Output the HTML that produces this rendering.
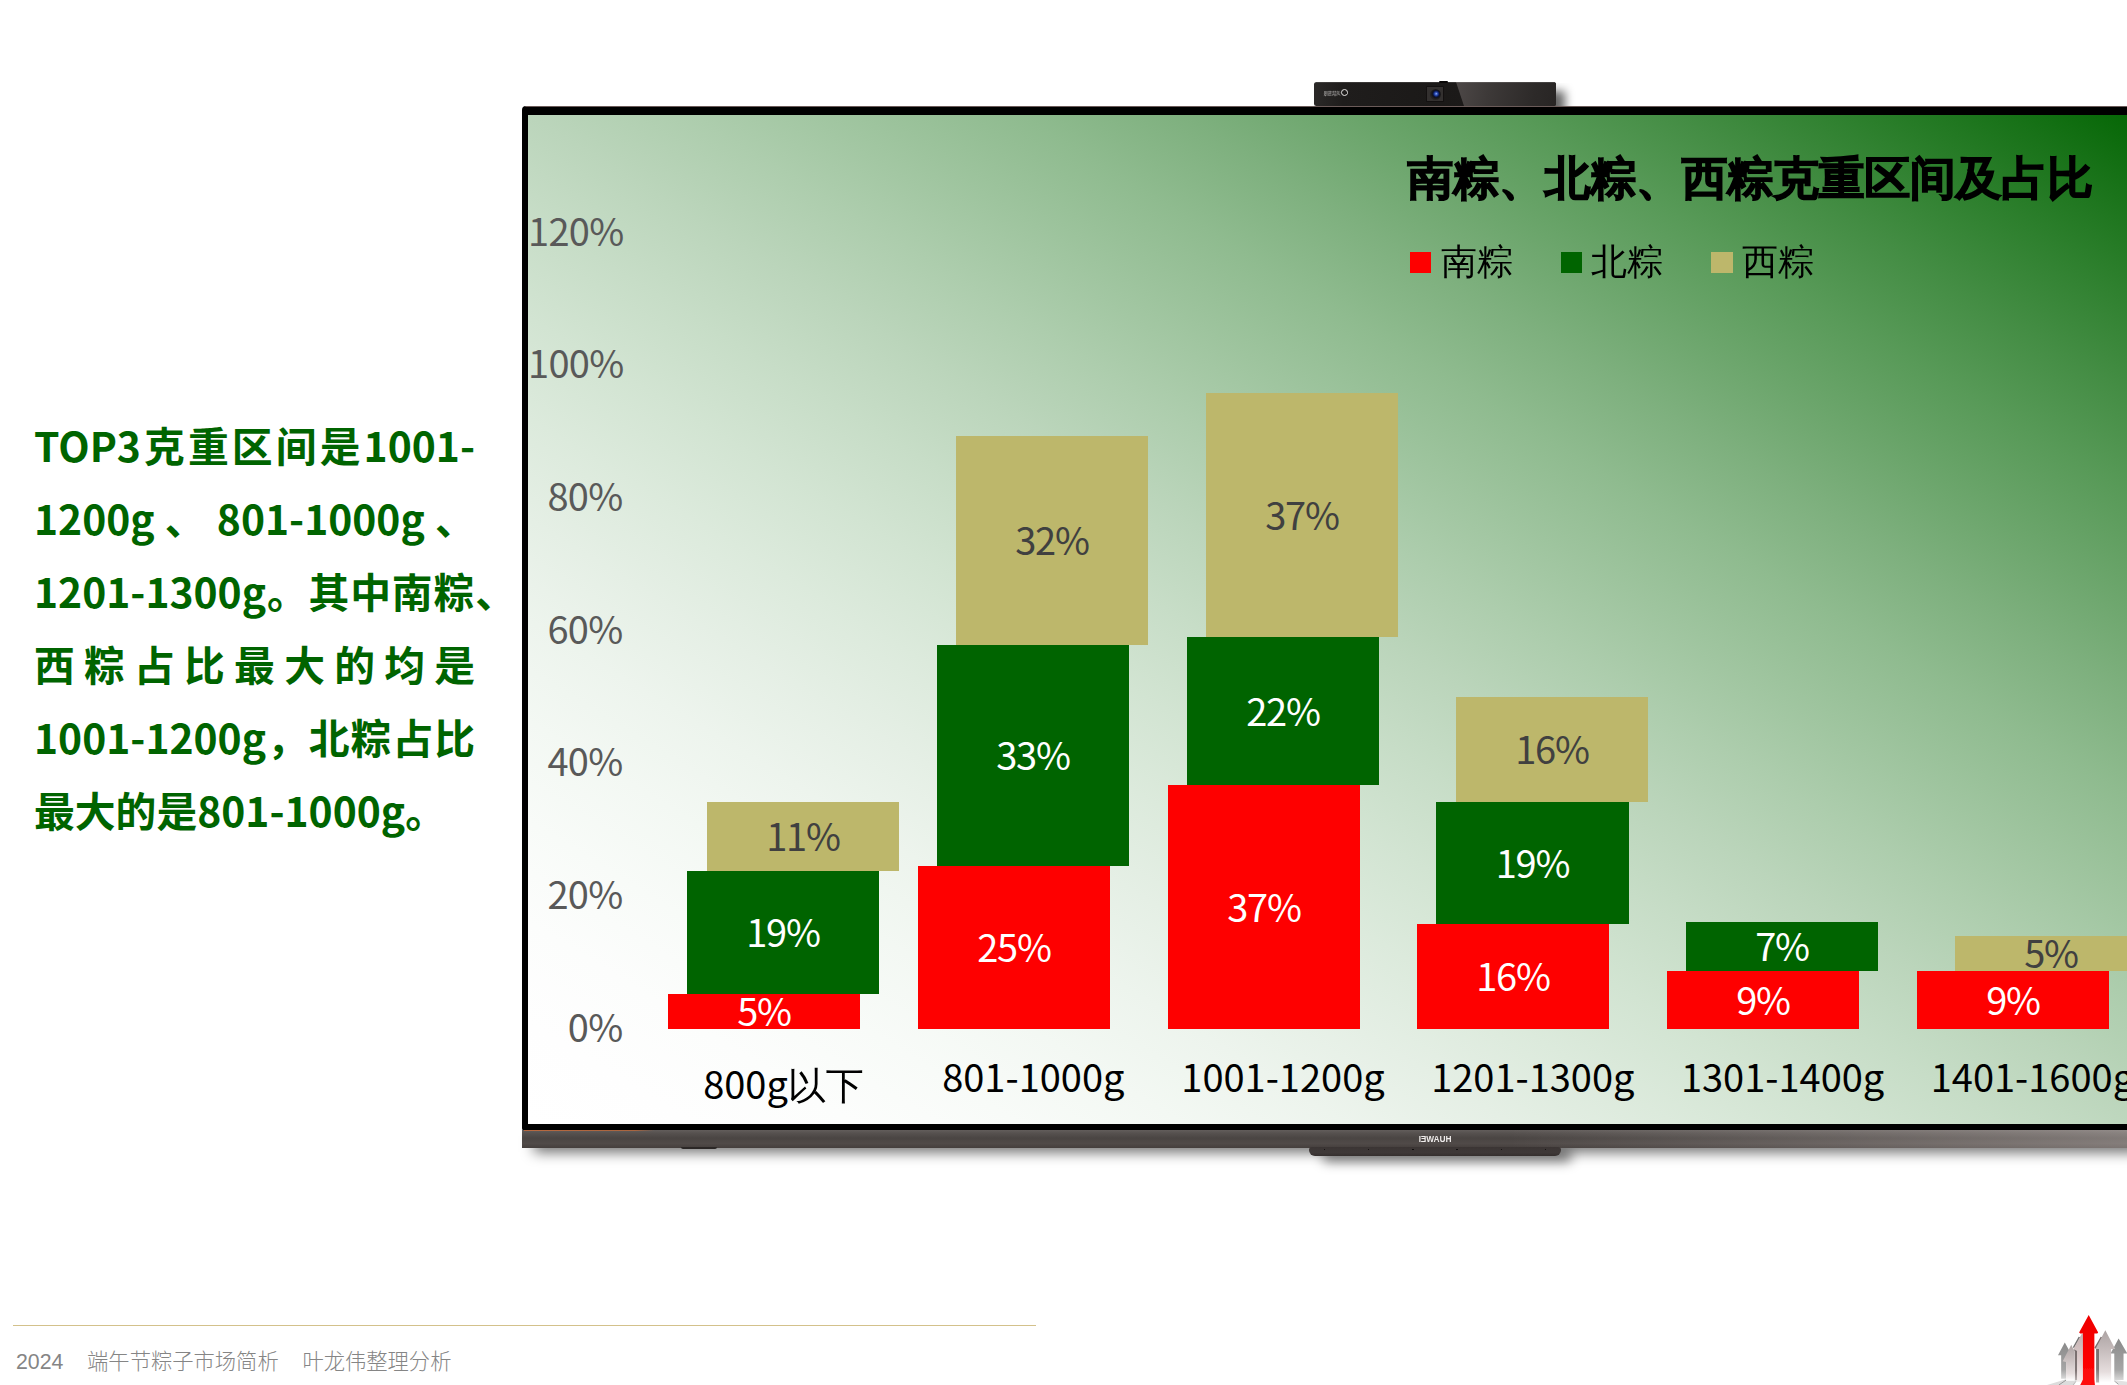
<!DOCTYPE html>
<html lang="zh-CN">
<head>
<meta charset="utf-8">
<title>南粽、北粽、西粽克重区间及占比</title>
<style>
html,body{margin:0;padding:0;background:#fff;overflow:hidden;}
body{width:2127px;height:1385px;position:relative;overflow:hidden;font-family:"Liberation Sans","Noto Sans CJK SC",sans-serif;}
.abs{position:absolute;}
/* left text */
.lt{position:absolute;left:34px;width:440px;height:74px;line-height:74px;font-family:"Noto Sans CJK SC","Liberation Sans",sans-serif;font-weight:700;font-size:40.8px;color:#006400;white-space:nowrap;}
.lt.j{text-align:justify;text-align-last:justify;}
/* tv */
#tv{position:absolute;left:522px;top:106px;width:1700px;height:1024.5px;background:#000;border-radius:4px 0 0 3px;}
#screen{position:absolute;left:528px;top:115px;width:1640px;height:1009px;background:linear-gradient(to top right,rgb(255,255,255) 0%,rgb(254,254,254) 5%,rgb(252,253,252) 10%,rgb(248,251,248) 15%,rgb(243,248,243) 20%,rgb(237,244,237) 25%,rgb(229,239,229) 30%,rgb(220,234,220) 35%,rgb(210,228,210) 40%,rgb(199,221,199) 45%,rgb(187,213,187) 50%,rgb(173,205,173) 55%,rgb(158,196,158) 60%,rgb(143,187,143) 65%,rgb(126,176,126) 70%,rgb(107,165,107) 75%,rgb(88,154,88) 80%,rgb(68,141,68) 85%,rgb(46,128,46) 90%,rgb(24,114,24) 95%,rgb(0,100,0) 100%);overflow:hidden;}
.chart{font-family:"Noto Sans CJK SC","Liberation Sans",sans-serif;font-size:38px;}
.wq{font-family:"WenQuanYi Zen Hei","Noto Sans CJK SC",sans-serif;}
.yl{position:absolute;left:0;width:94.5px;letter-spacing:-0.7px;text-align:right;color:#595959;height:44px;line-height:44px;}
.bar{position:absolute;color:#fff;letter-spacing:-1.2px;display:flex;align-items:center;justify-content:center;line-height:44px;}
.r{background:#fe0000;}
.g{background:#006400;}
.k{background:#bdb76b;color:#404040;}
.cl{position:absolute;width:260px;text-align:center;color:#000;height:44px;line-height:44px;white-space:nowrap;}
#title{position:absolute;left:879.5px;top:32px;font-size:45.7px;line-height:64px;height:64px;color:#000;white-space:nowrap;-webkit-text-stroke:2.8px #000;}
.lg{position:absolute;top:125px;height:44px;line-height:44px;font-size:36px;color:#000;white-space:nowrap;}
.lm{position:absolute;top:137px;width:21px;height:21px;}

#tvsh{position:absolute;left:534px;top:1136px;width:1700px;height:16px;background:rgba(0,0,0,.6);filter:blur(7px);}
#tvbarhl{position:absolute;left:522px;top:1130.4px;width:1700px;height:18px;background:linear-gradient(to right,rgba(255,244,240,0) 58%,rgba(255,244,240,.3) 94.4%);}
#foot{position:absolute;left:681px;top:1147px;width:36px;height:2px;background:#2b2726;border-radius:0 0 2px 2px;}
#tvtop{position:absolute;left:525px;top:105.6px;width:1700px;height:1.4px;background:linear-gradient(to bottom,#9c8c8a,#3a2a28);border-radius:3px 0 0 0;}
#tvbar{position:absolute;left:522px;top:1130.4px;width:1700px;height:18px;background:linear-gradient(to bottom,#625d5b 0%,#56514f 18%,#4a4543 45%,#504a48 75%,#453f3d 100%);}
#tvcop{position:absolute;left:524px;top:1130px;width:130px;height:1.3px;background:linear-gradient(to right,#b9693f 0%,#a9653f 85%,rgba(169,101,63,0) 100%);}
#stsh{position:absolute;left:1322px;top:1150px;width:250px;height:12px;background:rgba(0,0,0,.5);filter:blur(6px);border-radius:6px;}
#stand{position:absolute;left:1309px;top:1147px;width:252px;height:9px;background:linear-gradient(to bottom,#3b3534,#3f3938 60%,#352f2e);border-radius:3px 3px 6px 6px;}
.dot{position:absolute;top:1.6px;width:1.6px;height:1.6px;border-radius:50%;background:#0c0a0a;}
#hw{position:absolute;left:1405px;top:1133.6px;width:60px;height:11px;line-height:11px;text-align:center;font-family:"Liberation Sans",sans-serif;font-weight:700;font-size:8.2px;color:#efeceb;transform:scaleX(-1);letter-spacing:0;}
#camshw{position:absolute;left:1300px;top:83px;width:300px;height:24px;overflow:hidden;}
#camsh{position:absolute;left:30px;top:8px;width:235px;height:30px;background:rgba(0,0,0,.6);filter:blur(5px);}
#cam{position:absolute;left:1314px;top:82px;width:242px;height:23.5px;border-radius:2.5px;background:linear-gradient(to right,#2b2928 0%,#1f1d1c 12%,#1b1918 50%,#1d1b1a 100%);overflow:hidden;}
#camhl{position:absolute;left:142px;top:0;width:110px;height:24px;background:linear-gradient(100deg,#4d4847 0%,#3d3938 30%,#2d2a29 70%,#262322 100%);clip-path:polygon(0 0,100% 0,100% 100%,8px 100%);}
#camtop{position:absolute;left:0;top:0;width:100%;height:1px;background:rgba(255,255,255,.12);}
#lensbox{position:absolute;left:113px;top:5px;width:16px;height:14px;background:#33302f;box-shadow:0 0 0 0.7px #100e0e;}
#lens{position:absolute;left:115.5px;top:6.5px;width:11px;height:11px;border-radius:50%;background:radial-gradient(circle 5.5px at 56% 44%,#dfe8ff 0%,#4f72d8 14%,#1a3796 36%,#0a1238 58%,#151417 74%,#262323 100%);}
#camnotch{position:absolute;left:1439px;top:81px;width:9px;height:2px;background:#0a0808;border-radius:1px;}
#camtxt{position:absolute;left:8.5px;top:7.5px;width:18px;height:6px;line-height:6px;font-size:4.2px;color:#b5b3b2;font-family:"Noto Sans CJK SC","Liberation Sans",sans-serif;transform:scaleX(-1);white-space:nowrap;letter-spacing:0;text-align:center;}
#camico{position:absolute;left:27px;top:6.6px;width:5.2px;height:5.2px;border-radius:50%;border:1.5px solid #e8e6e5;}
#camico:after{content:"";position:absolute;left:3px;top:2.6px;width:2.4px;height:2.2px;background:#1d1b1a;}
#fline{position:absolute;left:13px;top:1325px;width:1023px;height:1px;background:#d3c18b;}
#ftxt{position:absolute;left:16px;top:1346px;height:32px;line-height:32px;font-family:"Liberation Sans","Noto Sans CJK SC",sans-serif;font-weight:300;font-size:21.3px;color:#858585;white-space:pre;}
</style>
</head>
<body>

<!-- left paragraph -->
<div class="lt j" style="top:407.7px;width:441px;">TOP3克重区间是1001-</div>
<div class="lt j" style="top:480.7px;width:441.8px;">1200g 、 801-1000g 、</div>
<div class="lt j" style="top:553.7px;width:482px;">1201-1300g。其中南粽、</div>
<div class="lt j" style="top:626.7px;width:441px;">西粽占比最大的均是</div>
<div class="lt j" style="top:699.7px;width:441px;">1001-1200g，北粽占比</div>
<div class="lt" style="top:772.7px;">最大的是801-1000g。</div>

<!-- TV -->
<div id="tvsh"></div>
<div id="stsh"></div>
<div id="camshw"><div id="camsh"></div></div>
<div id="tv"></div>
<div id="tvtop"></div>
<div id="tvbar"></div>
<div id="tvbarhl"></div>
<div id="tvcop"></div>
<div id="foot"></div>
<div id="stand"><i class="dot" style="left:14.6px"></i><i class="dot" style="left:58.9px"></i><i class="dot" style="left:103.2px"></i><i class="dot" style="left:147.3px"></i><i class="dot" style="left:191.6px"></i><i class="dot" style="left:235.7px"></i></div>
<div id="hw">HUAWEI</div>
<div id="cam"><div id="camhl"></div><div id="camtop"></div><div id="lensbox"></div><div id="lens"></div><div id="camtxt">鸿鹄慧眼</div><div id="camico"></div></div>
<div id="camnotch"></div>
<div id="screen" class="chart">
  <div class="yl" style="top:92.5px;">120%</div>
  <div class="yl" style="top:225.2px;">100%</div>
  <div class="yl" style="top:357.8px;">80%</div>
  <div class="yl" style="top:490.5px;">60%</div>
  <div class="yl" style="top:623.2px;">40%</div>
  <div class="yl" style="top:755.8px;">20%</div>
  <div class="yl" style="top:888.5px;">0%</div>
  <div class="bar r" style="left:140px;top:879px;width:192px;height:35px;"><span style="position:relative;top:-1.3px">5%</span></div>
  <div class="bar g" style="left:159px;top:756px;width:192px;height:123px;"><span style="position:relative;top:-1.3px">19%</span></div>
  <div class="bar k" style="left:179px;top:687px;width:192px;height:69px;"><span style="position:relative;top:-1.3px">11%</span></div>
  <div class="bar r" style="left:390px;top:751px;width:192px;height:163px;"><span style="position:relative;top:-1.3px">25%</span></div>
  <div class="bar g" style="left:409px;top:530px;width:192px;height:221px;"><span style="position:relative;top:-1.3px">33%</span></div>
  <div class="bar k" style="left:428px;top:321px;width:192px;height:209px;"><span style="position:relative;top:-1.3px">32%</span></div>
  <div class="bar r" style="left:640px;top:670px;width:192px;height:244px;"><span style="position:relative;top:-1.3px">37%</span></div>
  <div class="bar g" style="left:659px;top:522px;width:192px;height:148px;"><span style="position:relative;top:-1.3px">22%</span></div>
  <div class="bar k" style="left:678px;top:278px;width:192px;height:244px;"><span style="position:relative;top:-1.3px">37%</span></div>
  <div class="bar r" style="left:889px;top:809px;width:192px;height:105px;"><span style="position:relative;top:-1.3px">16%</span></div>
  <div class="bar g" style="left:908px;top:687px;width:193px;height:122px;"><span style="position:relative;top:-1.3px">19%</span></div>
  <div class="bar k" style="left:928px;top:582px;width:192px;height:105px;"><span style="position:relative;top:-1.3px">16%</span></div>
  <div class="bar r" style="left:1139px;top:856px;width:192px;height:58px;"><span style="position:relative;top:-1.3px">9%</span></div>
  <div class="bar g" style="left:1158px;top:807px;width:192px;height:49px;"><span style="position:relative;top:-1.3px">7%</span></div>
  <div class="bar r" style="left:1389px;top:856px;width:192px;height:58px;"><span style="position:relative;top:-1.3px">9%</span></div>
  <div class="bar k" style="left:1427px;top:821px;width:192px;height:35px;"><span style="position:relative;top:-1.3px">5%</span></div>
  <div class="cl" style="left:125.5px;top:946px;">800g<span class="wq">以下</span></div>
  <div class="cl" style="left:375.29999999999995px;top:939px;">801-1000g</div>
  <div class="cl" style="left:625px;top:939px;">1001-1200g</div>
  <div class="cl" style="left:874.8px;top:939px;">1201-1300g</div>
  <div class="cl" style="left:1124.6px;top:939px;">1301-1400g</div>
  <div class="cl" style="left:1374.4px;top:939px;">1401-1600g</div>
  <div id="title" class="wq">南粽、北粽、西粽克重区间及占比</div>
  <div class="lm r" style="left:882px;"></div><div class="lg wq" style="left:913px;">南粽</div>
  <div class="lm g" style="left:1033px;"></div><div class="lg wq" style="left:1063px;">北粽</div>
  <div class="lm k" style="left:1183px;width:22px;"></div><div class="lg wq" style="left:1214px;">西粽</div>
</div>

<!-- footer -->
<div id="fline"></div>
<div id="ftxt">2024    端午节粽子市场简析    叶龙伟整理分析</div>
<!--LOGO-->
<svg id="logo" viewBox="0 0 1385 1385" width="80" height="80" style="position:absolute;left:2047px;top:1305px;overflow:hidden">
<defs>
<filter id="lb" x="-5%" y="-5%" width="110%" height="110%"><feGaussianBlur stdDeviation="7"/></filter>
<linearGradient id="gd" x1="0" y1="0" x2="0" y2="1"><stop offset="0" stop-color="#8a8a8a"/><stop offset=".75" stop-color="#a6a6a6"/><stop offset="1" stop-color="#d8d8d8"/></linearGradient>
<linearGradient id="gl" x1="0" y1="0" x2="0" y2="1"><stop offset="0" stop-color="#aca3a3"/><stop offset=".35" stop-color="#c4baba"/><stop offset=".8" stop-color="#e6dede"/><stop offset="1" stop-color="#ffffff"/></linearGradient>
<linearGradient id="gp" x1="0" y1="0" x2="0" y2="1"><stop offset="0" stop-color="#c2b2b2"/><stop offset=".5" stop-color="#dccaca"/><stop offset="1" stop-color="#f6eeee"/></linearGradient>
<linearGradient id="gr" x1="0" y1="0" x2="0" y2="1"><stop offset="0" stop-color="#ee0000"/><stop offset=".6" stop-color="#fb0000"/><stop offset="1" stop-color="#ff1010"/></linearGradient>
<linearGradient id="gs" x1="0" y1="0" x2="0" y2="1"><stop offset="0" stop-color="#786d6d"/><stop offset=".7" stop-color="#807676"/><stop offset="1" stop-color="#b8b0b0"/></linearGradient>
</defs>
<g filter="url(#lb)">
<!-- floor -->
<polygon points="0,1385 330,1285 520,1300 470,1385" fill="#dcdcdc"/>
<polygon points="1165,1300 1385,1330 1385,1385 1230,1385" fill="#e2e2e2"/>
<line x1="330" y1="1300" x2="205" y2="1385" stroke="#5a5a5a" stroke-width="9"/>
<line x1="505" y1="1320" x2="450" y2="1385" stroke="#777" stroke-width="6"/>
<line x1="1165" y1="1315" x2="1235" y2="1370" stroke="#555" stroke-width="8"/>
<!-- far-left dark arrow -->
<polygon points="308,650 190,870 245,870 245,1275 330,1275 330,870 430,870" fill="url(#gd)"/>
<!-- far-right dark arrow -->
<polygon points="1240,580 1100,840 1165,840 1165,1300 1325,1300 1325,840 1385,840 1385,830" fill="url(#gd)"/>
<!-- behind-red left arrow: dark side + face -->
<polygon points="548,548 445,735 475,745 575,560" fill="#707070"/>
<polygon points="600,500 455,760 520,790 520,1330 640,1330 640,500" fill="url(#gp)"/>
<polygon points="455,760 520,790 520,1300 480,1300 480,800" fill="url(#gs)"/>
<!-- left light arrow -->
<polygon points="420,690 272,975 330,985 330,1310 480,1310 480,800 455,760" fill="url(#gl)"/>
<!-- right light arrow: side + face -->
<polygon points="930,550 820,740 850,760 850,1340 905,1340 905,770 960,560" fill="url(#gs)"/>
<polygon points="1010,435 838,760 905,760 905,1340 1110,1340 1110,760 1180,760" fill="url(#gl)"/>
<!-- red arrow -->
<polygon points="722,172 556,478 575,492 622,492 622,1290 575,1385 830,1385 820,1290 820,492 870,492 886,478" fill="url(#gr)"/>
</g>
</svg>

</body>
</html>
